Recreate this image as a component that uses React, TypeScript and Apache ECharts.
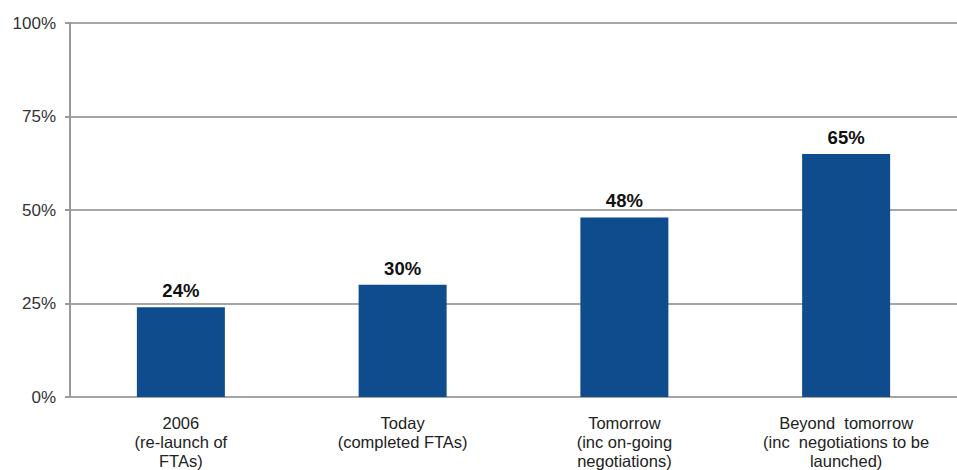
import React, { useEffect, useRef } from "react";
import * as echarts from "echarts";

const categories = [
  "2006\n(re-launch of\nFTAs)",
  "Today\n(completed FTAs)",
  "Tomorrow\n(inc on-going\nnegotiations)",
  "Beyond  tomorrow\n(inc  negotiations to be\nlaunched)",
];
const values = [24, 30, 48, 65];

export default function App() {
  const ref = useRef<HTMLDivElement>(null);
  useEffect(() => {
    const chart = echarts.init(ref.current!, null, { renderer: "svg" });
    chart.setOption({
      animation: false,
      backgroundColor: "#ffffff",
      grid: { left: 70, right: 0, top: 23, bottom: 72, containLabel: false },
      xAxis: {
        type: "category",
        data: categories,
        axisLine: { show: false },
        axisTick: { show: false },
        axisLabel: {
          color: "#222",
          fontFamily: "Liberation Sans, Arial, sans-serif",
          fontSize: 16.5,
          lineHeight: 19,
          margin: 16,
          interval: 0,
        },
      },
      yAxis: {
        type: "value",
        min: 0,
        max: 100,
        interval: 25,
        axisLine: { show: true, lineStyle: { color: "#9a9a9a", width: 2 } },
        axisTick: { show: true, length: 5, lineStyle: { color: "#9a9a9a", width: 2 } },
        splitLine: { show: true, lineStyle: { color: "#a5a5a5", width: 2 } },
        axisLabel: {
          formatter: "{value}%",
          color: "#333",
          fontFamily: "Liberation Sans, Arial, sans-serif",
          fontSize: 17,
          margin: 14,
        },
      },
      series: [
        {
          type: "bar",
          data: values,
          barWidth: 88,
          itemStyle: { color: "#0F4C8E" },
          label: {
            show: true,
            position: "top",
            distance: 7,
            formatter: "{c}%",
            color: "#111",
            fontWeight: "bold",
            fontSize: 18.5,
            fontFamily: "Liberation Sans, Arial, sans-serif",
          },
        },
      ],
    });
    return () => chart.dispose();
  }, []);
  return (
    <div
      ref={ref}
      style={{ position: "absolute", left: 0, top: 0, width: 957, height: 470 }}
    />
  );
}
